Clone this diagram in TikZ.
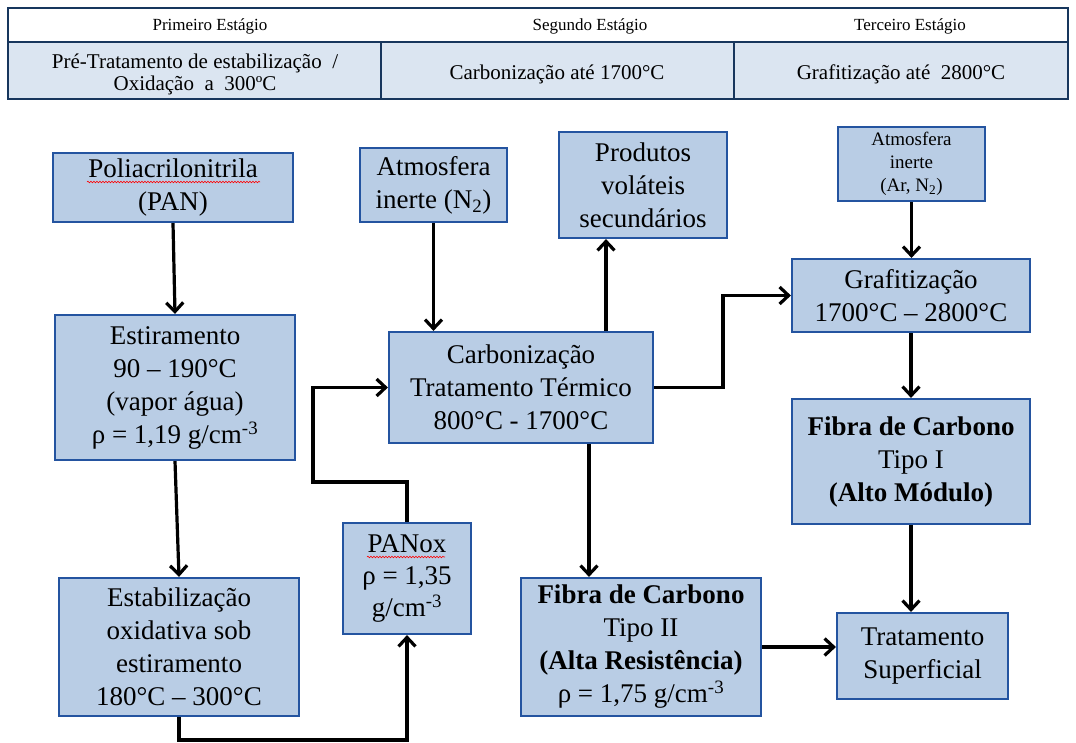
\documentclass[tikz,border=0pt]{standalone}
\usepackage{fontspec}
\setmainfont{Liberation Serif}
\usetikzlibrary{arrows.meta,decorations.pathmorphing}
\definecolor{boxfill}{RGB}{185,205,229}
\definecolor{boxline}{RGB}{36,84,160}
\definecolor{tabline}{RGB}{23,54,93}
\definecolor{tabfill}{RGB}{219,229,241}
\begin{document}
\begin{tikzpicture}[x=1pt,y=-1pt,
  box/.style={draw=boxline,fill=boxfill,line width=2.2pt,inner sep=0pt,align=center,font=\fontsize{27}{33}\selectfont},
  arr/.style={line width=3.2pt,-{Straight Barb[length=9pt,width=17pt]}},
  hdr/.style={font=\fontsize{17}{20}\selectfont},
  cell/.style={font=\fontsize{21}{22}\selectfont,align=center},
  squig/.style={red,line width=0.6pt,decorate,decoration={snake,amplitude=0.8pt,segment length=3pt}}]
\useasboundingbox (0,0) rectangle (1076,742);
% table
\fill[tabfill] (8,42) rectangle (1068,99);
\draw[tabline,line width=2.5pt] (8,8) rectangle (1068,99);
\draw[tabline,line width=2pt] (8,42) -- (1068,42);
\draw[tabline,line width=2pt] (381,42) -- (381,99) (734,42) -- (734,99);
\node[hdr] (h1) at (210,26) {Primeiro Estágio};
\node[hdr] (h2) at (590,26) {Segundo Estágio};
\node[hdr] (h3) at (910,26) {Terceiro Estágio};
\node[cell] (c1) at (195,74) {Pré-Tratamento de estabilização~~/\\Oxidação~~a~~300ºC};
\node[cell] (c2) at (557,74) {Carbonização até 1700°C};
\node[cell] (c3) at (901,74) {Grafitização até~~2800°C};
% boxes
\node[box,minimum width=240pt,minimum height=69pt] (pan) at (173,187.5) {Poliacrilonitrila\\(PAN)};
\node[box,minimum width=240pt,minimum height=145pt] (estir) at (175,387.5) {Estiramento\\90 – 190°C\\(vapor água)\\ρ = 1,19 g/cm\textsuperscript{-3}};
\node[box,minimum width=240pt,minimum height=138pt] (estab) at (179,647) {Estabilização\\oxidativa sob\\estiramento\\180°C – 300°C};
\node[box,minimum width=128pt,minimum height=111pt,font=\fontsize{27}{32}\selectfont] (panox) at (407,578.5) {PANox\\ρ = 1,35\\g/cm\textsuperscript{-3}};
\node[box,minimum width=147pt,minimum height=74pt] (atmn) at (433.5,185) {Atmosfera\\inerte (N\textsubscript{2})};
\node[box,minimum width=168pt,minimum height=106pt] (prod) at (643,185) {Produtos\\voláteis\\secundários};
\node[box,minimum width=264pt,minimum height=111pt] (carb) at (521,387.5) {Carbonização\\Tratamento Térmico\\800°C - 1700°C};
\node[box,minimum width=147pt,minimum height=74pt,font=\fontsize{19}{23}\selectfont] (atmar) at (911.5,164) {Atmosfera\\inerte\\(Ar, N\textsubscript{2})};
\node[box,minimum width=238pt,minimum height=73pt] (graf) at (911,295.5) {Grafitização\\1700°C – 2800°C};
\node[box,minimum width=238pt,minimum height=125pt] (tipoI) at (911,461.5) {\textbf{Fibra de Carbono}\\Tipo I\\\textbf{(Alto Módulo)}};
\node[box,minimum width=240pt,minimum height=138pt] (tipoII) at (641,647) {\textbf{Fibra de Carbono}\\Tipo II\\\textbf{(Alta Resistência)}\\ρ = 1,75 g/cm\textsuperscript{-3}};
\node[box,minimum width=171pt,minimum height=86pt] (trat) at (922.5,656) {Tratamento\\Superficial};
% helper coordinates
\coordinate (k1) at (313,482);
\coordinate (k2) at (723,0);
\coordinate (k3) at (589,0);
\coordinate (k4) at (606,0);
\coordinate (k5) at (911,0);
\coordinate (k6) at (0,740);
% connectors
\draw[arr] (pan.south) -- (estir.north);
\draw[arr] (estir.south) -- (estab.north);
\draw[arr] (estab.south) -- (estab.south |- k6) -| (panox.south);
\draw[arr] (panox.north) |- (k1) |- (carb.west);
\draw[arr] (atmn.south) -- (atmn.south |- carb.north);
\draw[arr] (carb.north -| k4) -- (prod.south -| k4);
\draw[arr] (carb.east) -| (k2 |- graf.west) -- (graf.west);
\draw[arr] (atmar.south) -- (atmar.south |- graf.north);
\draw[arr] (graf.south) -- (tipoI.north);
\draw[arr] (carb.south -| k3) -- (tipoII.north -| k3);
\draw[arr] (tipoI.south -| k5) -- (trat.north -| k5);
\draw[arr] (tipoII.east) -- (tipoII.east -| trat.west);
% spell-check marks
\draw[squig] (87,182) -- (260,182);
\draw[squig] (367,557) -- (445,557);
\end{tikzpicture}
\end{document}
